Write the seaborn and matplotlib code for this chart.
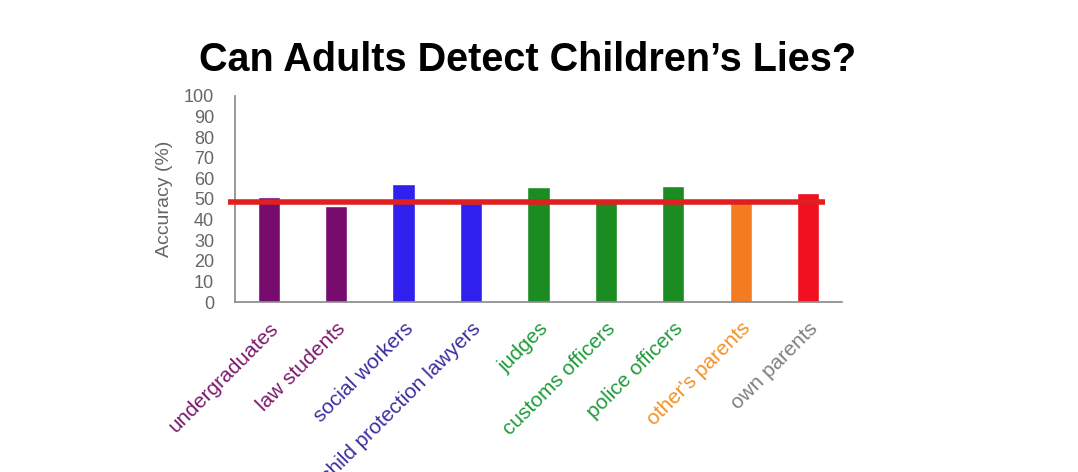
import matplotlib
matplotlib.use("Agg")
import matplotlib.pyplot as plt
import seaborn as sns
import pandas as pd

categories = ["undergraduates", "law students", "social workers", "child protection lawyers",
              "judges", "customs officers", "police officers", "other's parents", "own parents"]
accuracy = [51, 46.4, 57.4, 48, 55.8, 48.4, 56.5, 48.4, 52.9]
bar_colors = ["#770c6e", "#770c6e", "#3020ee", "#3020ee", "#1a8c22", "#1a8c22", "#1a8c22", "#f47c20", "#f01020"]
label_colors = ["#7a1a6e", "#7a1a6e", "#3a2fa0", "#3a2fa0", "#1f9a3a", "#1f9a3a", "#1f9a3a", "#f0922a", "#808080"]
chance_level = 48.7
yticks = list(range(0, 101, 10))

sns.set_theme(style="white")
plt.rcParams['font.family'] = ['Liberation Sans', 'DejaVu Sans']

fig = plt.figure(figsize=(10.78, 4.72), dpi=100)
ax = fig.add_axes([0.218, 0.36, 0.563, 0.437])

df = pd.DataFrame({"group": categories, "acc": accuracy})
sns.barplot(data=df, x="group", y="acc", hue="group", palette=bar_colors,
            legend=False, width=0.33, ax=ax, saturation=1)

ax.plot([-0.6, 8.25], [chance_level, chance_level], color="#e02020", lw=4,
        clip_on=False, zorder=5, solid_capstyle="butt")

ax.set_xlim(-0.5, 8.5)
ax.set_ylim(0, 100)
ax.set_yticks(yticks)
ax.set_yticklabels([str(t) for t in yticks], color="#666666", fontsize=13)
ax.set_ylabel("Accuracy (%)", color="#666666", fontsize=14, labelpad=8)
ax.set_xlabel("")
ax.tick_params(axis="both", length=0)
ax.tick_params(axis="y", pad=15)
ax.tick_params(axis="x", pad=12)
ax.set_xticks(range(len(categories)))
ax.set_xticklabels(categories, rotation=45, ha="right", rotation_mode="anchor", fontsize=15)
for lbl, c in zip(ax.get_xticklabels(), label_colors):
    lbl.set_color(c)

for s in ["top", "right"]:
    ax.spines[s].set_visible(False)
for s in ["left", "bottom"]:
    ax.spines[s].set_color("#888888")
    ax.spines[s].set_linewidth(1.2)

fig.text(0.489, 0.873, "Can Adults Detect Children\u2019s Lies?", ha="center", va="center",
         fontsize=28.5, fontweight="bold", color="black")

fig.savefig("out.png", dpi=100, facecolor="white")
